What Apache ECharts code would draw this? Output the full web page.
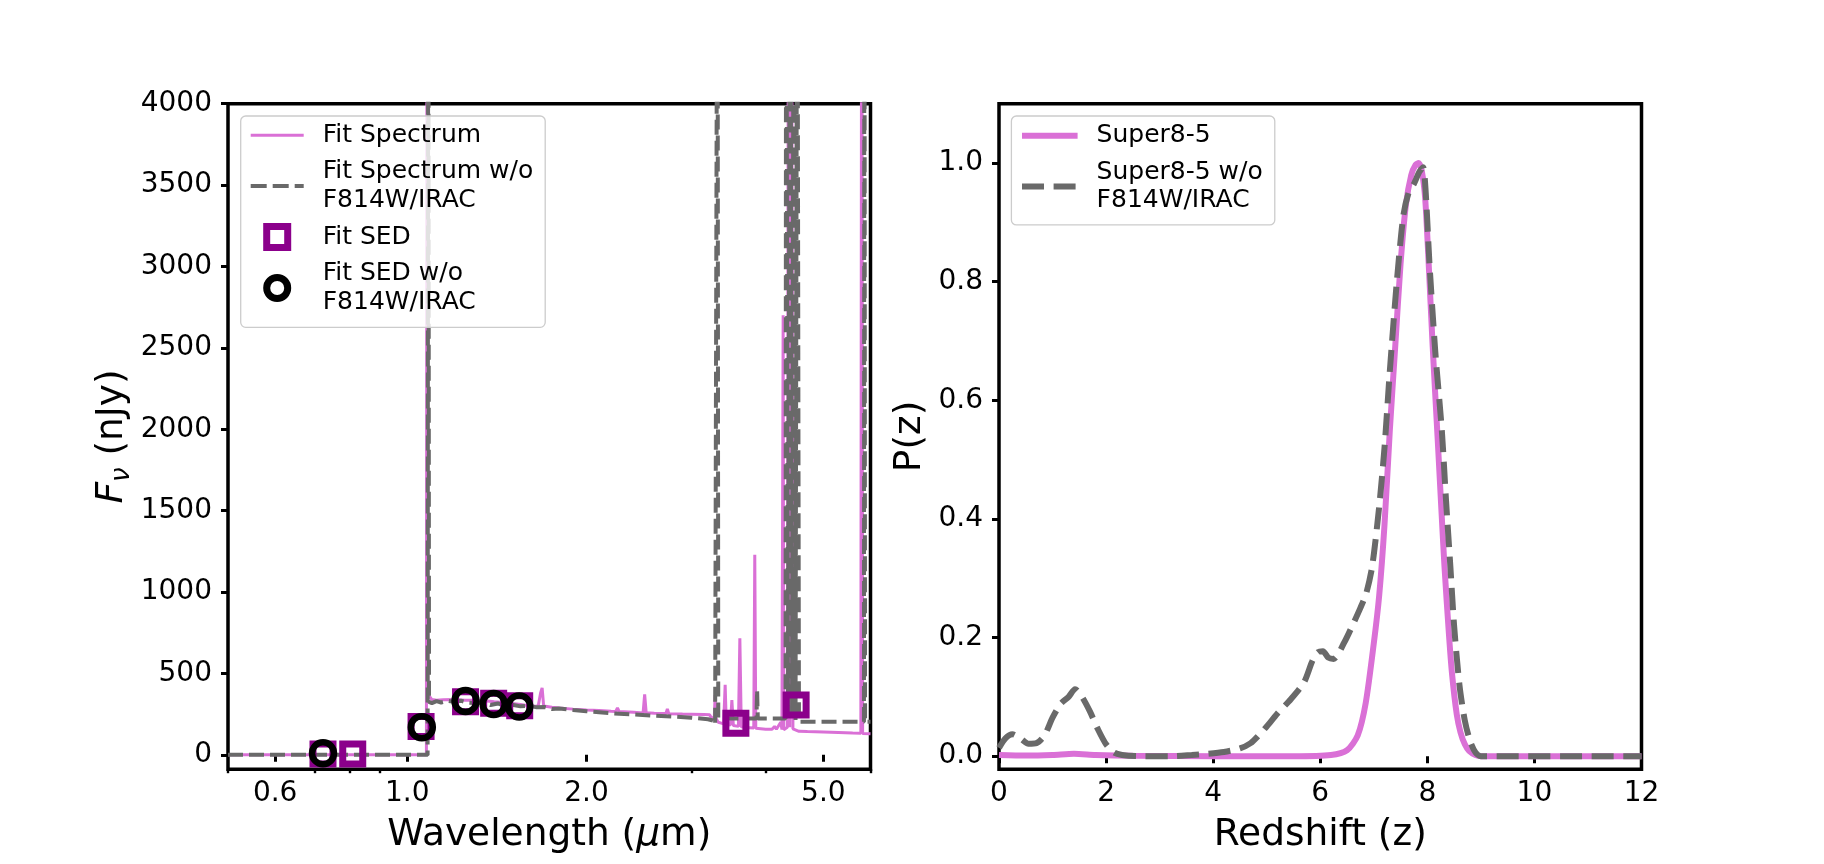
<!DOCTYPE html>
<html>
<head>
<meta charset="utf-8">
<title>Super8-5 fit spectrum and P(z)</title>
<script src="https://cdn.jsdelivr.net/npm/echarts@6/dist/echarts.min.js"></script>
<style>
html, body { margin: 0; padding: 0; background: #fff; }
#main { width: 1824px; height: 864px; }
</style>
</head>
<body>
<div id="main"></div>
<script>
// ---- left panel: fitted spectra (wavelength in micron, flux in nJy) ----
var specWave = [0.50, 0.80, 1.000, 1.077, 1.080, 1.083, 1.090, 1.094, 1.100, 1.12, 1.15, 1.20, 1.25, 1.30, 1.35, 1.40, 1.45, 1.50,
  1.55, 1.60, 1.64, 1.66, 1.675, 1.685, 1.695, 1.75, 1.80, 1.90, 2.00, 2.10, 2.20, 2.24, 2.255, 2.27, 2.40, 2.49, 2.505, 2.52,
  2.60, 2.72, 2.735, 2.75, 2.90, 3.00, 3.15, 3.22, 3.26, 3.28, 3.29, 3.30, 3.33, 3.37, 3.40, 3.42, 3.435, 3.49, 3.51, 3.53,
  3.60, 3.62, 3.64, 3.70, 3.82, 3.835, 3.85, 4.00, 4.10, 4.14, 4.17, 4.20, 4.24, 4.26, 4.27, 4.28, 4.29, 4.35, 4.37, 4.39,
  4.42, 4.445, 4.55, 4.70, 5.00, 5.30, 5.60, 5.78, 5.80, 5.82, 6.00];
var specFlux = [0, 0, 0, 0, 6000, 345, 360, 370, 340, 335, 338, 340, 336, 336, 332, 326, 322, 315,
  309, 302, 298, 302, 380, 412, 300, 292, 288, 281, 276, 272, 268, 267, 288, 266, 262, 258, 372, 258,
  256, 254, 282, 253, 251, 250, 248, 246, 215, 240, 368, 225, 200, 195, 190, 430, 188, 184, 337, 180,
  175, 716, 172, 168, 165, 1230, 163, 158, 157, 175, 157, 155, 200, 156, 155, 2700, 155, 170, 6000, 170,
  6000, 160, 145, 143, 140, 137, 134, 133, 6000, 132, 130];

var specWaveNoIrac = [0.50, 0.80, 1.000, 1.082, 1.085, 1.088, 1.10, 1.12, 1.14, 1.17, 1.20, 1.23, 1.26, 1.30, 1.34, 1.38,
  1.42, 1.46, 1.50, 1.55, 1.60, 1.65, 1.70, 1.75, 1.80, 1.90, 2.00, 2.10, 2.20, 2.40, 2.60, 2.80, 3.00, 3.20, 3.27, 3.29,
  3.31, 3.320, 3.330, 3.50, 3.70, 3.86, 3.87, 3.88, 4.10, 4.32, 4.33, 4.36, 4.40, 4.43, 4.46, 4.49, 4.52, 4.55, 5.00,
  5.50, 5.85, 5.86, 5.875, 6.00];
var specFluxNoIrac = [0, 0, 0, 0, 6000, 325, 318, 330, 322, 332, 326, 333, 322, 318, 322, 306,
  316, 300, 308, 298, 302, 292, 294, 282, 285, 276, 268, 262, 256, 248, 241, 235, 228, 219, 210, 188,
  190, 6000, 225, 224, 224, 224, 399, 224, 224, 224, 6000, 230, 6000, 230, 6000, 215, 6000, 204, 204,
  204, 204, 6000, 204, 204];

// photometry of the fits
var sedWave = [0.722, 0.810, 1.055, 1.253, 1.397, 1.545, 3.565, 4.50];
var sedFlux = [6, 5, 174, 327, 317, 301, 194, 307];
var sedWaveNoIrac = [0.722, 1.058, 1.253, 1.397, 1.542];
var sedFluxNoIrac = [10, 170, 331, 313, 297];

// ---- right panel: redshift probability ----
var zFit = [0, 0.5, 1.0, 1.4, 1.8, 2.5, 4.0, 5.5, 6.2, 6.5, 6.7, 6.85, 7.0, 7.1, 7.2, 7.3, 7.4, 7.5, 7.6, 7.7, 7.78,
  7.84, 7.9, 7.96, 8.02, 8.1, 8.19, 8.26, 8.32, 8.4, 8.46, 8.55, 8.62, 8.7, 8.78, 8.9, 9.0, 12];
var pzFit = [0.002, 0.001, 0.002, 0.004, 0.002, 0.0005, 0, 0, 0.002, 0.01, 0.035, 0.09, 0.19, 0.27, 0.39, 0.55, 0.69,
  0.83, 0.93, 0.98, 0.997, 1.0, 0.985, 0.94, 0.84, 0.69, 0.54, 0.42, 0.32, 0.21, 0.14, 0.07, 0.04, 0.02, 0.009,
  0.002, 0, 0];
var zNoIrac = [0, 0.12, 0.25, 0.4, 0.55, 0.7, 0.85, 1.0, 1.15, 1.3, 1.42, 1.55, 1.7, 1.85, 2.0, 2.15, 2.3, 2.6, 3.2,
  3.6, 3.9, 4.2, 4.5, 4.7, 4.85, 5.0, 5.2, 5.45, 5.7, 5.85, 5.95, 6.05, 6.15, 6.25, 6.45, 6.6, 6.75, 6.86, 6.97, 7.1,
  7.2, 7.3, 7.43, 7.55, 7.65, 7.75, 7.85, 7.92, 7.97, 8.04, 8.15, 8.27, 8.35, 8.43, 8.5, 8.6, 8.7, 8.8, 8.9, 9.0, 12];
var pzNoIrac = [0.014, 0.03, 0.037, 0.03, 0.021, 0.022, 0.035, 0.065, 0.088, 0.1, 0.113, 0.1, 0.075, 0.045, 0.02,
  0.006, 0.002, 0, 0, 0.002, 0.004, 0.007, 0.013, 0.022, 0.035, 0.05, 0.072, 0.096, 0.125, 0.16, 0.175, 0.177, 0.166,
  0.164, 0.192, 0.22, 0.25, 0.275, 0.32, 0.42, 0.52, 0.65, 0.80, 0.91, 0.95, 0.965, 0.985, 0.993, 0.95, 0.83, 0.68,
  0.55, 0.43, 0.32, 0.22, 0.12, 0.06, 0.025, 0.006, 0, 0];

var waveTicks = [0.6, 1.0, 2.0, 5.0];
var waveMinorTicks = [0.5, 0.7, 0.8, 0.9, 3.0, 4.0, 6.0];
var fluxTicks = [0, 500, 1000, 1500, 2000, 2500, 3000, 3500, 4000];
var pzTicks = [0, 0.2, 0.4, 0.6, 0.8, 1.0];

var orchid = '#DA70D6';
var dimgray = '#696969';
var sedPurple = '#8B008B';
var font = 'DejaVu Sans';

function pairs(xs, ys) {
  return xs.map(function (x, i) { return [x, ys[i]]; });
}

var tickLabel = { color: '#000', fontFamily: font, fontSize: 28 };
var nameStyle = { color: '#000', fontFamily: font, fontSize: 37.5, lineHeight: 45 };
var noFill = 'rgba(0,0,0,0)';

var legendBase = {
  orient: 'vertical',
  selectedMode: false,
  itemGap: 8.5,
  itemHeight: 21,
  backgroundColor: 'rgba(255,255,255,0.8)',
  borderColor: '#cccccc',
  borderWidth: 1.3,
  borderRadius: 5,
  textStyle: { color: '#000', fontFamily: font, fontSize: 25, lineHeight: 28.3, padding: [0, 0, 0, 14] }
};

var myChart = echarts.init(document.getElementById('main'), null, { renderer: 'canvas' });

var option = {
  animation: false,
  backgroundColor: '#fff',
  grid: [
    { left: 228, top: 103.7, width: 642.5, height: 665.5, show: true, borderColor: '#000', borderWidth: 3.5, backgroundColor: 'transparent' },
    { left: 999, top: 103.7, width: 642.5, height: 665.5, show: true, borderColor: '#000', borderWidth: 3.5, backgroundColor: 'transparent' }
  ],
  legend: [
    Object.assign({}, legendBase, {
      left: 240.7, top: 116, itemWidth: 53,
      padding: [5, 12, 11, 8],
      data: [
        { name: 'Fit Spectrum', itemStyle: { color: noFill, borderWidth: 0 }, lineStyle: { color: orchid, width: 3, type: 'solid' } },
        { name: 'Fit Spectrum w/o\nF814W/IRAC', itemStyle: { color: noFill, borderWidth: 0 }, lineStyle: { color: dimgray, width: 4, type: [16, 6] } },
        { name: 'Fit SED', icon: 'path://M0,0L10,0L10,10L0,10Z', itemStyle: { color: noFill, borderColor: sedPurple, borderWidth: 7 } },
        { name: 'Fit SED w/o\nF814W/IRAC', icon: 'circle', itemStyle: { color: noFill, borderColor: '#000', borderWidth: 7 } }
      ]
    }),
    Object.assign({}, legendBase, {
      left: 1011.4, top: 116, itemWidth: 55.6,
      padding: [5.5, 12, 10, 7.6],
      data: [
        { name: 'Super8-5', itemStyle: { color: noFill, borderWidth: 0 }, lineStyle: { color: orchid, width: 6, type: 'solid' } },
        { name: 'Super8-5 w/o\nF814W/IRAC', itemStyle: { color: noFill, borderWidth: 0 }, lineStyle: { color: dimgray, width: 6, type: [22, 9.6] } }
      ]
    })
  ],
  xAxis: [
    {
      type: 'log', logBase: 10, gridIndex: 0, min: 0.5, max: 6, position: 'bottom',
      axisLine: { show: false }, splitLine: { show: false },
      axisTick: { customValues: waveTicks, length: 7, lineStyle: { color: '#000', width: 3 } },
      axisLabel: Object.assign({ customValues: waveTicks, margin: 11, formatter: function (v) { return Number(v).toFixed(1); } }, tickLabel),
      name: 'Wavelength ({i|μ}m)', nameLocation: 'middle', nameGap: 43,
      nameTextStyle: Object.assign({ rich: { i: { fontFamily: font, fontSize: 37.5, fontStyle: 'italic', lineHeight: 45 } } }, nameStyle)
    },
    {
      // minor ticks of the log axis
      type: 'log', logBase: 10, gridIndex: 0, min: 0.5, max: 6, position: 'bottom',
      axisLine: { show: false }, splitLine: { show: false }, axisLabel: { show: false },
      axisTick: { customValues: waveMinorTicks, length: 4, lineStyle: { color: '#000', width: 2.4 } }
    },
    {
      type: 'value', gridIndex: 1, min: 0, max: 12, interval: 2, position: 'bottom',
      axisLine: { show: false }, splitLine: { show: false },
      axisTick: { length: 7, lineStyle: { color: '#000', width: 3 } },
      axisLabel: Object.assign({ margin: 11 }, tickLabel),
      name: 'Redshift (z)', nameLocation: 'middle', nameGap: 43, nameTextStyle: nameStyle
    }
  ],
  yAxis: [
    {
      type: 'value', gridIndex: 0, min: -88, max: 4000,
      axisLine: { show: false }, splitLine: { show: false },
      axisTick: { customValues: fluxTicks, length: 7, lineStyle: { color: '#000', width: 3 } },
      axisLabel: Object.assign({ customValues: fluxTicks, margin: 16, formatter: function (v) { return String(v); } }, tickLabel),
      name: '{f|F}{s|ν} (nJy)', nameLocation: 'middle', nameRotate: 90, nameGap: 93,
      nameTextStyle: Object.assign({
        rich: {
          f: { fontFamily: font, fontSize: 37.5, fontStyle: 'italic', lineHeight: 45 },
          s: { fontFamily: font, fontSize: 26, fontStyle: 'italic', lineHeight: 29, verticalAlign: 'bottom' }
        }
      }, nameStyle)
    },
    {
      type: 'value', gridIndex: 1, min: -0.022, max: 1.1,
      axisLine: { show: false }, splitLine: { show: false },
      axisTick: { customValues: pzTicks, length: 7, lineStyle: { color: '#000', width: 3 } },
      axisLabel: Object.assign({ customValues: pzTicks, margin: 16, formatter: function (v) { return Number(v).toFixed(1); } }, tickLabel),
      name: 'P(z)', nameLocation: 'middle', nameRotate: 90, nameGap: 66, nameTextStyle: nameStyle
    }
  ],
  series: [
    {
      name: 'Fit Spectrum', type: 'line', xAxisIndex: 0, yAxisIndex: 0,
      data: pairs(specWave, specFlux), symbol: 'none', clip: true, z: 2,
      lineStyle: { color: orchid, width: 3 }, itemStyle: { color: orchid }
    },
    {
      name: 'Fit Spectrum w/o\nF814W/IRAC', type: 'line', xAxisIndex: 0, yAxisIndex: 0,
      data: pairs(specWaveNoIrac, specFluxNoIrac), symbol: 'none', clip: true, z: 3,
      lineStyle: { color: dimgray, width: 4, type: [15, 6] }, itemStyle: { color: dimgray }
    },
    {
      name: 'Fit SED', type: 'scatter', xAxisIndex: 0, yAxisIndex: 0,
      data: pairs(sedWave, sedFlux), symbol: 'rect', symbolSize: 20, z: 4,
      itemStyle: { color: noFill, borderColor: sedPurple, borderWidth: 7, opacity: 1 }
    },
    {
      name: 'Fit SED w/o\nF814W/IRAC', type: 'scatter', xAxisIndex: 0, yAxisIndex: 0,
      data: pairs(sedWaveNoIrac, sedFluxNoIrac), symbol: 'circle', symbolSize: 22, z: 5,
      itemStyle: { color: noFill, borderColor: '#000', borderWidth: 6.5, opacity: 1 }
    },
    {
      name: 'Super8-5', type: 'line', xAxisIndex: 2, yAxisIndex: 1,
      data: pairs(zFit, pzFit), symbol: 'none', smooth: 0.25, clip: true, z: 2,
      lineStyle: { color: orchid, width: 6 }, itemStyle: { color: orchid }
    },
    {
      name: 'Super8-5 w/o\nF814W/IRAC', type: 'line', xAxisIndex: 2, yAxisIndex: 1,
      data: pairs(zNoIrac, pzNoIrac), symbol: 'none', smooth: 0.25, clip: true, z: 3,
      lineStyle: { color: dimgray, width: 6, type: [22, 9.6] }, itemStyle: { color: dimgray }
    }
  ]
};

myChart.setOption(option);
</script>
</body>
</html>
